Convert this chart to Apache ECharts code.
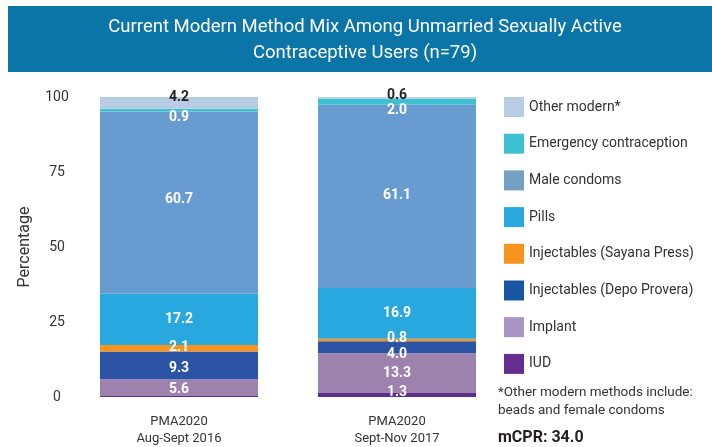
<!DOCTYPE html>
<html>
<head>
<meta charset="utf-8">
<script src="https://cdn.jsdelivr.net/npm/echarts@6/dist/echarts.min.js"></script>
<style>
    html, body { margin: 0; padding: 0; background: #fff; }
    #chart { width: 712px; height: 447px; }
</style>
</head>
<body>
<div id="chart"></div>
<script>
    // 数据
    var categories = ['PMA2020\nAug-Sept 2016', 'PMA2020\nSept-Nov 2017']
    var seriesNames = ['IUD', 'Implant', 'Injectables (Depo Provera)', 'Injectables (Sayana Press)',
        'Pills', 'Male condoms', 'Emergency contraception', 'Other modern*']
    var iud = [0.3, 1.3]
    var implant = [5.6, 13.3]
    var depoProvera = [9.3, 4.0]
    var sayanaPress = [2.1, 0.8]
    var pills = [17.2, 16.9]
    var maleCondoms = [60.7, 61.1]
    var emergency = [0.9, 2.0]
    var otherModern = [4.2, 0.6]
    var yTicks = [0, 25, 50, 75, 100]

    var font = "Roboto, 'Liberation Sans', sans-serif"

    // 样式
    var barColors = ['#5e2d8d', '#9e82ae', '#2b55a4', '#f7941d', '#29a8e0', '#689bd0', '#3fc1d4', '#b7cde3']
    var legendColors = ['#662d91', '#a995c4', '#1656a3', '#f7941d', '#29a8e0', '#74a0c4', '#3fc1d4', '#b7cde3']
    // label vertical shifts per bar (px)
    var labelShift = [
        [3, -3], [2, 0], [3, 7], [-1, -2], [0, 0], [-3, -1], [7, 9], [-5, -2]
    ]
    var labelDark = [false, false, false, false, false, false, false, true]

    var values = [iud, implant, depoProvera, sayanaPress, pills, maleCondoms, emergency, otherModern]

    var chart = echarts.init(document.getElementById('chart'))

    var series = []
    values.forEach(function (vals, i) {
        series.push({
            type: 'bar',
            name: seriesNames[i],
            stack: 'total',
            barWidth: '72.5%',
            itemStyle: { color: barColors[i] },
            data: vals,
            label: {
                show: true,
                position: 'inside',
                fontFamily: font,
                fontWeight: 'bold',
                fontSize: 14,
                color: labelDark[i] ? '#231f20' : '#ffffff',
                formatter: function (p) {
                    return p.value < 0.5 ? '' : p.value.toFixed(1)
                }
            },
            labelLayout: function (p) {
                return { dy: labelShift[i][p.dataIndex], hideOverlap: false }
            }
        })
    })

    var legendData = []
    for (var k = seriesNames.length - 1; k >= 0; k--) {
        legendData.push({ name: seriesNames[k], itemStyle: { color: legendColors[k] } })
    }

    var option = {
        animation: false,
        graphic: [{
            type: 'rect',
            shape: { x: 8, y: 6, width: 704, height: 66 },
            style: { fill: '#0b75a8' },
            z: 0
        }, {
            type: 'text',
            left: 498,
            top: 384,
            style: {
                text: '*Other modern methods include:\nbeads and female condoms',
                fontFamily: font,
                fontSize: 13.5,
                lineHeight: 18,
                fill: '#333'
            }
        }, {
            type: 'text',
            left: 498,
            top: 430,
            style: {
                text: 'mCPR: 34.0',
                fontFamily: font,
                fontSize: 16,
                fontWeight: 'bold',
                fill: '#231f20'
            }
        }],
        title: {
            text: 'Current Modern Method Mix Among Unmarried Sexually Active\nContraceptive Users (n=79)',
            left: 360,
            textAlign: 'center',
            top: 9,
            textStyle: {
                color: '#fff',
                fontFamily: font,
                fontWeight: 'normal',
                fontSize: 18.5,
                lineHeight: 26
            }
        },
        legend: {
            orient: 'vertical',
            left: 499,
            top: 92,
            itemWidth: 20,
            itemHeight: 20,
            itemGap: 16.7,
            icon: 'rect',
            selectedMode: false,
            textStyle: {
                fontFamily: font,
                fontSize: 14,
                color: '#333'
            },
            data: legendData
        },
        grid: {
            left: 70,
            right: 206,
            top: 97,
            bottom: 47
        },
        xAxis: {
            type: 'category',
            data: categories,
            axisLine: { show: false },
            axisTick: { show: false },
            axisLabel: {
                margin: 16,
                fontFamily: font,
                fontSize: 13,
                lineHeight: 17,
                color: '#333'
            }
        },
        yAxis: {
            type: 'value',
            min: yTicks[0],
            max: yTicks[yTicks.length - 1],
            interval: 25,
            name: 'Percentage',
            nameLocation: 'middle',
            nameGap: 37,
            nameTextStyle: {
                fontFamily: font,
                fontSize: 16,
                color: '#333'
            },
            splitLine: { show: false },
            axisLine: { show: false },
            axisTick: { show: false },
            axisLabel: {
                align: 'center',
                margin: 13,
                fontFamily: font,
                fontSize: 14,
                color: '#333'
            }
        },
        series: series
    }

    chart.setOption(option)
</script>
</body>
</html>
